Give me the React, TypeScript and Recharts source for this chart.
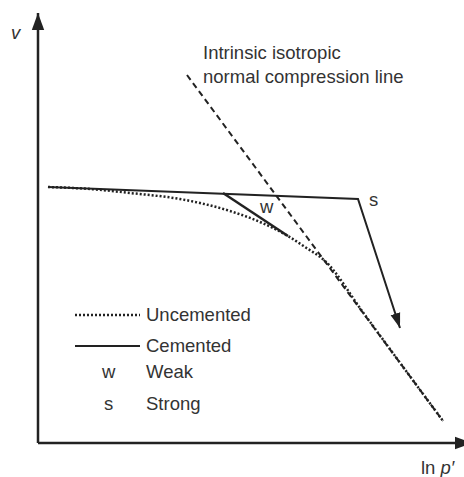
import React from "react";
import { ComposedChart, Line, XAxis, YAxis, Customized } from "recharts";

// Schematic coordinates: x = ln p' (0..10), y = v (0..10)
const axisY = [
  { x: 0, y: 0 },
  { x: 0, y: 10 },
];
const axisX = [
  { x: 0, y: 0 },
  { x: 10, y: 0 },
];
const ncl = [
  { x: 3.433, y: 8.558 },
  { x: 9.332, y: 0.512 },
];
const cemented = [
  { x: 0.23, y: 5.953 },
  { x: 7.373, y: 5.674 },
  { x: 8.341, y: 2.674 },
];
const weak = [
  { x: 4.263, y: 5.814 },
  { x: 5.76, y: 4.814 },
];
const uncemented = [
  { x: 0.23, y: 5.953 },
  { x: 1.198, y: 5.907 },
  { x: 2.12, y: 5.814 },
  { x: 3.272, y: 5.674 },
  { x: 3.733, y: 5.581 },
  { x: 4.424, y: 5.395 },
  { x: 5.115, y: 5.14 },
  { x: 5.76, y: 4.814 },
  { x: 6.152, y: 4.558 },
  { x: 6.613, y: 4.233 },
  { x: 7.5, y: 3.022 },
  { x: 8.4, y: 1.785 },
  { x: 9.332, y: 0.512 },
];
const titleLines = ["Intrinsic isotropic", "normal compression line"];
const legendLabels = ["Uncemented", "Cemented", "Weak", "Strong"];
const legendSymbols = ["w", "s"];

const FONT = "'Liberation Sans', Arial, sans-serif";
const TXT = "#333";
const INK = "#222";

const Overlay = () => (
  <g>
    <defs>
      <marker
        id="axisArrow"
        markerUnits="userSpaceOnUse"
        viewBox="0 -7 17 14"
        markerWidth={17}
        markerHeight={14}
        refX={17}
        refY={0}
        orient="auto"
      >
        <path d="M0,-6.2 L17,0 L0,6.2 Z" fill={INK} />
      </marker>
      <marker
        id="pathArrow"
        markerUnits="userSpaceOnUse"
        viewBox="0 -6 16 12"
        markerWidth={16}
        markerHeight={12}
        refX={15}
        refY={0}
        orient="auto"
      >
        <path d="M0,-5 L15,0 L0,5 Z" fill={INK} />
      </marker>
    </defs>
    <g fontFamily={FONT} fontSize={18.5} fill={TXT}>
      <text x={11} y={39} fontStyle="italic">v</text>
      <text x={203} y={59}>{titleLines[0]}</text>
      <text x={203} y={83}>{titleLines[1]}</text>
      <text x={260} y={213}>w</text>
      <text x={369} y={206}>s</text>
      <text x={421} y={474}>
        ln <tspan fontStyle="italic">p′</tspan>
      </text>
      <line x1={75} y1={315} x2={140} y2={315} stroke={INK} strokeWidth={2.5} strokeDasharray="2 2" />
      <line x1={75} y1={346} x2={140} y2={346} stroke={INK} strokeWidth={2.2} />
      <text x={146} y={321}>{legendLabels[0]}</text>
      <text x={146} y={352}>{legendLabels[1]}</text>
      <text x={102} y={378}>{legendSymbols[0]}</text>
      <text x={146} y={378}>{legendLabels[2]}</text>
      <text x={104} y={410}>{legendSymbols[1]}</text>
      <text x={146} y={410}>{legendLabels[3]}</text>
    </g>
  </g>
);

export default function App() {
  return (
    <div
      style={{
        position: "absolute",
        left: 0,
        top: 0,
        width: 464,
        height: 477,
        overflow: "hidden",
        background: "#fff",
      }}
    >
      <ComposedChart
        width={480}
        height={477}
        margin={{ left: 38, right: 8, top: 13, bottom: 34 }}
      >
        <XAxis type="number" dataKey="x" domain={[0, 10]} hide />
        <YAxis type="number" dataKey="y" domain={[0, 10]} hide />
        <Line data={axisY} dataKey="y" type="linear" stroke={INK} strokeWidth={2.5} dot={false} activeDot={false} isAnimationActive={false} markerEnd="url(#axisArrow)" />
        <Line data={axisX} dataKey="y" type="linear" stroke={INK} strokeWidth={2.5} dot={false} activeDot={false} isAnimationActive={false} markerEnd="url(#axisArrow)" />
        <Line data={ncl} dataKey="y" type="linear" stroke={INK} strokeWidth={2} strokeDasharray="6 4" dot={false} activeDot={false} isAnimationActive={false} />
        <Line data={uncemented} dataKey="y" type="monotone" stroke={INK} strokeWidth={2.5} strokeDasharray="2 2" dot={false} activeDot={false} isAnimationActive={false} />
        <Line data={cemented} dataKey="y" type="linear" stroke={INK} strokeWidth={2} dot={false} activeDot={false} isAnimationActive={false} markerEnd="url(#pathArrow)" />
        <Line data={weak} dataKey="y" type="linear" stroke={INK} strokeWidth={2.5} dot={false} activeDot={false} isAnimationActive={false} />
        <Customized component={Overlay} />
      </ComposedChart>
    </div>
  );
}
